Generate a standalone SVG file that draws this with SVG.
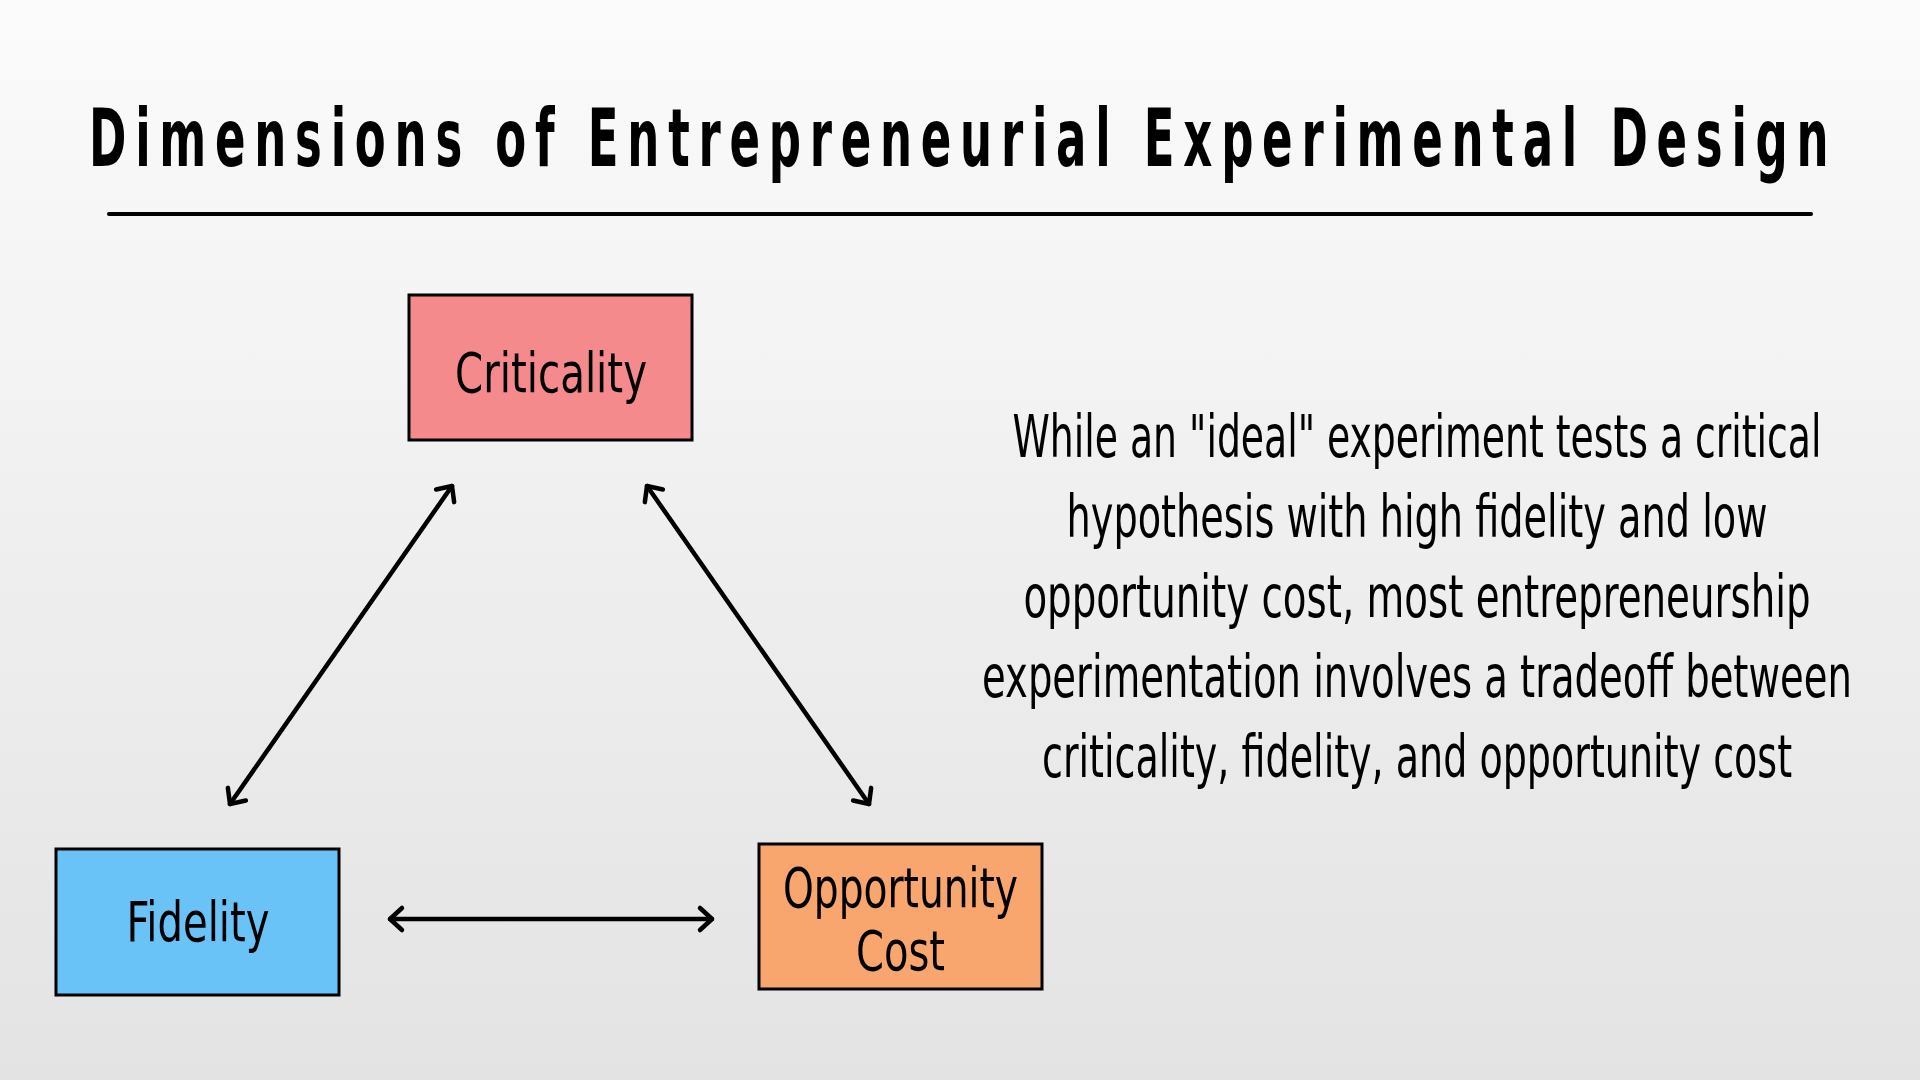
<svg xmlns="http://www.w3.org/2000/svg" width="1920" height="1080" viewBox="0 0 1920 1080">
  <defs>
    <linearGradient id="bg" x1="0" y1="0" x2="0" y2="1">
      <stop offset="0" stop-color="#fbfbfb"/>
      <stop offset="1" stop-color="#e3e3e3"/>
    </linearGradient>
    <marker id="chev" viewBox="-18 -16 22 32" markerWidth="22" markerHeight="32" refX="0" refY="0" markerUnits="userSpaceOnUse" orient="auto-start-reverse" overflow="visible">
      <path d="M -12 -11 L 0 0 L -12 11" fill="none" stroke="#000" stroke-width="4.5" stroke-linecap="round" stroke-linejoin="round"/>
    </marker>
    <style>
      .title { font-family: "DejaVu Sans Condensed", "DejaVu Sans", sans-serif; font-weight: bold; font-size: 80px; letter-spacing: 14px; fill: #000; }
      .node rect { stroke: #000; stroke-width: 3; }
      .lbl { font-family: "DejaVu Sans Condensed", "DejaVu Sans", sans-serif; font-size: 56px; fill: #000; text-anchor: middle; }
      .para { font-family: "DejaVu Sans Condensed", "DejaVu Sans", sans-serif; font-size: 58px; fill: #000; text-anchor: middle; }
      .conn line { stroke: #000; stroke-width: 4.5; stroke-linecap: round; fill: none; marker-start: url(#chev); marker-end: url(#chev); }
    </style>
  </defs>

  <rect x="0" y="0" width="1920" height="1080" fill="url(#bg)"/>

  <g id="title">
    <g transform="translate(89,0) scale(0.62,1)">
      <text class="title" x="0" y="166" textLength="2820" lengthAdjust="spacingAndGlyphs">Dimensions of Entrepreneurial Experimental Design</text>
    </g>
    <line x1="109" y1="214" x2="1811" y2="214" stroke="#000" stroke-width="4" stroke-linecap="round"/>
  </g>

  <g id="node-criticality" class="node">
    <rect x="409" y="295" width="283" height="145" fill="#f48a8b"/>
    <text class="lbl" x="551" y="392" textLength="192" lengthAdjust="spacingAndGlyphs">Criticality</text>
  </g>

  <g id="node-fidelity" class="node">
    <rect x="56" y="849" width="283" height="146" fill="#6ac3f7"/>
    <text class="lbl" x="198" y="941" textLength="143" lengthAdjust="spacingAndGlyphs">Fidelity</text>
  </g>

  <g id="node-opportunity-cost" class="node">
    <rect x="759" y="844" width="283" height="145" fill="#f8a66e"/>
    <text class="lbl" x="900.5" y="907" textLength="235" lengthAdjust="spacingAndGlyphs">Opportunity</text>
    <text class="lbl" x="900.5" y="970" textLength="89" lengthAdjust="spacingAndGlyphs">Cost</text>
  </g>

  <g id="connectors" class="conn">
    <line x1="452" y1="486" x2="230" y2="804"/>
    <line x1="647" y1="486" x2="869" y2="804"/>
    <line x1="390" y1="919" x2="712" y2="919"/>
  </g>

  <g id="description" transform="translate(1417,0) scale(0.64,1)">
    <text class="para" x="0" y="457" textLength="1264" lengthAdjust="spacingAndGlyphs">While an "ideal" experiment tests a critical</text>
    <text class="para" x="0" y="537" textLength="1095" lengthAdjust="spacingAndGlyphs">hypothesis with high fidelity and low</text>
    <text class="para" x="0" y="617" textLength="1230" lengthAdjust="spacingAndGlyphs">opportunity cost, most entrepreneurship</text>
    <text class="para" x="0" y="697" textLength="1359" lengthAdjust="spacingAndGlyphs">experimentation involves a tradeoff between</text>
    <text class="para" x="0" y="777" textLength="1172" lengthAdjust="spacingAndGlyphs">criticality, fidelity, and opportunity cost</text>
  </g>
</svg>
